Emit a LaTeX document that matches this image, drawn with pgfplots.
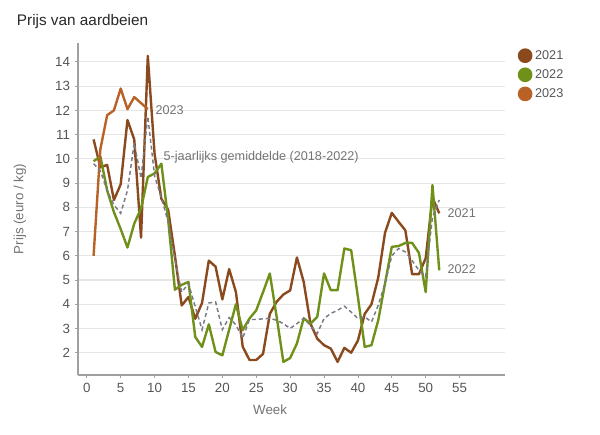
\documentclass[border=0pt]{standalone}
\usepackage{fontspec}
\setmainfont{Liberation Sans}
\usepackage{pgfplots}
\pgfplotsset{compat=1.18}
\definecolor{c21}{RGB}{139,74,30}
\definecolor{c22}{RGB}{112,145,25}
\definecolor{c23}{RGB}{184,98,40}
\definecolor{cavg}{RGB}{120,122,132}
\definecolor{tickgray}{RGB}{85,85,85}
\definecolor{labgray}{RGB}{115,115,115}
\definecolor{titlegray}{RGB}{40,40,40}
\definecolor{gridgray}{RGB}{230,230,230}
\definecolor{axgray}{RGB}{160,160,160}
\begin{document}
\begin{tikzpicture}
\useasboundingbox (-58.5pt,-45pt) rectangle (391.5pt,281.25pt);
\begin{axis}[
  scale only axis, width=320.25pt, height=249pt,
  xmin=-1.3, xmax=61.7, ymin=1.08, ymax=14.78,
  axis x line*=bottom, axis y line*=left,
  axis line style={draw=axgray, line width=0.8pt, -},
  xtick={0,5,...,55}, ytick={2,...,14},
  ymajorgrids, grid style={draw=gridgray, line width=0.8pt},
  tick align=outside, major tick length=2.5pt,
  tick style={draw=axgray, line width=0.6pt},
  tick label style={font=\fontsize{10}{11}\selectfont, text=tickgray},
  /pgf/number format/assume math mode=true,
  xlabel={Week}, ylabel={Prijs (euro / kg)},
  xlabel style={at={(axis description cs:0.45,-0.105)}, anchor=center, font=\fontsize{10}{12}\selectfont, text=labgray},
  ylabel style={at={(axis description cs:-0.136,0.5)}, anchor=center, font=\fontsize{10}{12}\selectfont, text=labgray},
  legend style={at={(axis description cs:1.02,0.995)}, anchor=north west, draw=none, fill=none,
    font=\fontsize{9.5}{11}\selectfont, text=tickgray, row sep=2.2pt},
  legend cell align=left,
  legend image code/.code={\fill[#1] (0.2cm,0cm) circle (4.6pt);},
  clip=false,
]
\addplot[c21, line width=1.8pt, line join=round] coordinates {
(1,10.8)(2,9.65)(3,9.75)(4,8.3)(5,8.95)(6,11.6)(7,10.8)(8,6.75)(9,14.25)(10,10.2)
(11,8.35)(12,7.9)(13,6.0)(14,3.95)(15,4.3)(16,3.4)(17,4.05)(18,5.8)(19,5.55)(20,4.2)
(21,5.45)(22,4.5)(23,2.25)(24,1.7)(25,1.7)(26,1.95)(27,3.6)(28,4.1)(29,4.4)(30,4.57)
(31,5.93)(32,4.92)(33,3.2)(34,2.58)(35,2.31)(36,2.17)(37,1.62)(38,2.2)(39,2.0)(40,2.5)
(41,3.6)(42,4.0)(43,5.1)(44,6.95)(45,7.77)(46,7.4)(47,7.05)(48,5.24)(49,5.24)(50,5.9)
(51,8.4)(52,7.75)};
\addlegendentry{2021}
\addplot[c22, line width=1.8pt, line join=round] coordinates {
(1,9.9)(2,10.1)(3,8.7)(4,7.8)(5,7.1)(6,6.34)(7,7.33)(8,7.95)(9,9.25)(10,9.4)
(11,9.8)(12,7.5)(13,4.6)(14,4.8)(15,4.92)(16,2.65)(17,2.24)(18,3.17)(19,2.03)(20,1.89)
(21,2.95)(22,4.0)(23,2.93)(24,3.41)(25,3.75)(26,4.5)(27,5.27)(28,3.5)(29,1.62)(30,1.78)
(31,2.38)(32,3.42)(33,3.2)(34,3.48)(35,5.27)(36,4.58)(37,4.58)(38,6.3)(39,6.23)(40,4.3)
(41,2.24)(42,2.31)(43,3.34)(44,4.86)(45,6.37)(46,6.4)(47,6.53)(48,6.53)(49,6.12)(50,4.5)
(51,8.92)(52,5.4)};
\addlegendentry{2022}
\addplot[c23, line width=1.8pt, line join=round] coordinates {
(1,6.0)(2,10.4)(3,11.8)(4,12.0)(5,12.9)(6,12.05)(7,12.55)(8,12.3)(9,12.05)};
\addlegendentry{2023}
\addplot[cavg, line width=1.1pt, dash pattern=on 3pt off 2.2pt, forget plot] coordinates {
(1,9.8)(2,9.5)(3,8.7)(4,8.1)(5,7.75)(6,8.7)(7,10.65)(8,9.2)(9,11.75)(10,9.3)
(11,8.4)(12,7.4)(13,5.85)(14,4.5)(15,4.85)(16,3.9)(17,2.95)(18,4.05)(19,4.1)(20,2.95)
(21,3.45)(22,3.15)(23,2.6)(24,3.37)(25,3.37)(26,3.4)(27,3.42)(28,3.34)(29,3.2)(30,3.0)
(31,3.2)(32,3.41)(33,3.13)(34,2.79)(35,3.41)(36,3.62)(37,3.75)(38,3.92)(39,3.68)(40,3.41)
(41,3.48)(42,3.27)(43,3.96)(44,4.86)(45,6.0)(46,6.3)(47,6.16)(48,5.8)(49,5.4)(50,5.15)
(51,7.6)(52,8.3)};
\node[anchor=west, inner sep=0pt, text=labgray, font=\fontsize{9.5}{11}\selectfont] at (axis cs:10.1,12.0) {2023};
\node[anchor=west, inner sep=0pt, text=labgray, font=\fontsize{9.5}{11}\selectfont] at (axis cs:11.3,10.07) {5-jaarlijks gemiddelde (2018-2022)};
\node[anchor=west, inner sep=0pt, text=labgray, font=\fontsize{9.5}{11}\selectfont] at (axis cs:53.2,7.75) {2021};
\node[anchor=west, inner sep=0pt, text=labgray, font=\fontsize{9.5}{11}\selectfont] at (axis cs:53.2,5.43) {2022};
\end{axis}
\node[anchor=base west, inner sep=0pt, text=titlegray, font=\fontsize{11.5}{13}\selectfont] at (-46pt,261.75pt) {Prijs van aardbeien};
\end{tikzpicture}
\end{document}
